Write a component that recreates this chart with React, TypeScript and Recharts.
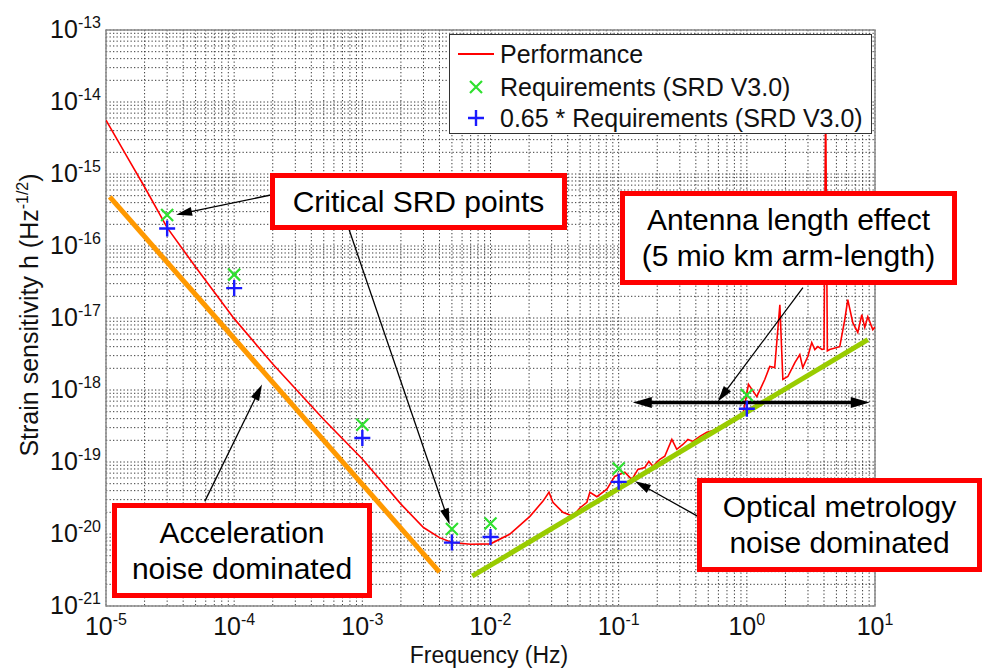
import React from 'react';
import {
  ComposedChart,
  Line,
  Scatter,
  XAxis,
  YAxis,
  CartesianGrid,
  ReferenceLine,
  ReferenceArea,
  Legend
} from 'recharts';

const FONT = "Arial, 'Liberation Sans', Helvetica, sans-serif";

// Performance curve: frequency (Hz) and strain sensitivity (1/sqrt(Hz))
const perfFreq = [
  1e-5, 1.5e-5, 2e-5, 3e-5, 5e-5, 1e-4, 2e-4, 5e-4, 1e-3, 2e-3, 3e-3, 4e-3, 5e-3, 7e-3, 1e-2,
  0.0141, 0.0203, 0.0256, 0.0286, 0.0307, 0.0367, 0.044, 0.0498, 0.0565, 0.0596, 0.0676, 0.081,
  0.093, 0.1117, 0.1267, 0.1413, 0.16, 0.172, 0.185, 0.2096, 0.229, 0.26, 0.284, 0.317, 0.347,
  0.379, 0.43, 0.488, 0.583, 0.698, 0.778, 0.931, 0.965, 1.03, 1.196, 1.38, 1.51, 1.65, 1.81,
  1.91, 2.09, 2.37, 2.59, 2.73, 2.99, 3.21, 3.39, 3.58, 3.85, 4.0, 4.12, 4.25, 4.43, 5.31, 5.81,
  6.13, 6.71, 7.34, 7.89, 8.32, 8.79, 9.61, 10
];
const perfStrain = [
  5.6e-15, 1.6e-15, 6.6e-16, 1.8e-16, 5.1e-17, 9.8e-18, 2.3e-18, 3.9e-19, 1.1e-19, 2.6e-20, 1.23e-20, 8.9e-21, 7.6e-21, 7.2e-21, 7.3e-21,
  9.9e-21, 1.76e-20, 2.84e-20, 3.8e-20, 2.76e-20, 2.0e-20, 1.76e-20, 2.3e-20, 2.76e-20, 3.8e-20, 3.3e-20, 4.2e-20,
  6.3e-20, 7.2e-20, 5.7e-20, 7.9e-20, 8.4e-20, 1.02e-19, 8.7e-20, 1.09e-19, 1.2e-19, 2.06e-19, 1.5e-19, 1.75e-19, 2.06e-19,
  1.93e-19, 2.27e-19, 2.58e-19, 2.83e-19, 3.54e-19, 3.9e-19, 4.57e-19, 6.3e-19, 1.2e-18, 8.1e-19, 1.4e-18, 2.12e-18, 2.05e-18, 1.53e-17,
  1.4e-18, 1.54e-18, 2.4e-18, 3.1e-18, 2.05e-18, 2.92e-18, 4.56e-18, 3.65e-18, 4.0e-18, 3.65e-18, 3.7e-18, 1e-14, 3.5e-18, 3.65e-18, 4.0e-18, 9.5e-18,
  1.8e-17, 8.6e-18, 6.3e-18, 1.11e-17, 7.4e-18, 1.04e-17, 6.9e-18, 7.5e-18
];

// SRD V3.0 requirement points and the 0.65 margin points
const reqFreq = [3e-5, 1e-4, 1e-3, 5e-3, 1e-2, 0.1, 1];
const reqStrain = [2.7e-16, 4.0e-17, 3.3e-19, 1.17e-20, 1.4e-20, 8.1e-20, 8.5e-19];
const reqMarginStrain = [1.75e-16, 2.6e-17, 2.15e-19, 7.6e-21, 9.1e-21, 5.3e-20, 5.5e-19];

// asymptotes
const accelFreq = [1.07e-5, 4.0e-3];
const accelStrain = [4.8e-16, 2.95e-21];
const opticalFreq = [7.2e-3, 8.8];
const opticalStrain = [2.6e-21, 5.0e-18];

// callout arrows (tail -> head)
const arrowTailFreq = [1.97e-4, 7.7e-4, 5.9e-5, 2.74, 0.415];
const arrowTailStrain = [5.15e-16, 1.91e-16, 2.84e-20, 2.64e-17, 1.76e-20];
const arrowHeadFreq = [3.52e-5, 4.8e-3, 1.65e-4, 0.594, 0.134];
const arrowHeadStrain = [2.72e-16, 1.36e-20, 1.19e-18, 6.9e-19, 5.4e-20];
const spanFreq = [0.129, 9.1];
const spanStrain = 6.7e-19;

// axis ticks
const xDecades = [1e-5, 1e-4, 1e-3, 1e-2, 1e-1, 1, 10];
const xExponents = ['-5', '-4', '-3', '-2', '-1', '0', '1'];
const yDecades = [1e-21, 1e-20, 1e-19, 1e-18, 1e-17, 1e-16, 1e-15, 1e-14, 1e-13];
const yExponents = ['-21', '-20', '-19', '-18', '-17', '-16', '-15', '-14', '-13'];
const minorSteps = [2, 3, 4, 5, 6, 7, 8, 9];

const withMinor = (decades: number[]) =>
  decades.flatMap((d, i) => (i < decades.length - 1 ? [d, ...minorSteps.map(m => m * d)] : [d]));
const xTicks = withMinor(xDecades);
const yTicks = withMinor(yDecades);

const toPoints = (fs: number[], hs: number[]) => fs.map((f, i) => ({ f, h: hs[i] }));
const perfData = toPoints(perfFreq, perfStrain);
const reqData = toPoints(reqFreq, reqStrain);
const reqMarginData = toPoints(reqFreq, reqMarginStrain);
const accelData = toPoints(accelFreq, accelStrain);
const opticalData = toPoints(opticalFreq, opticalStrain);

const REQ_GREEN = '#2fe02f';
const REQ_BLUE = '#1a1aff';

const decadeIndex = (v: number, decades: number[]) =>
  decades.findIndex(d => Math.abs(v / d - 1) < 1e-6);

const XTick = (props: any) => {
  const { x, y, payload } = props;
  const i = decadeIndex(payload.value, xDecades);
  if (i < 0) return null;
  return (
    <text x={x} y={y + 29} textAnchor="middle" fontFamily={FONT} fontSize={25} fill="#111">
      10<tspan dy={-10} fontSize={16}>{xExponents[i]}</tspan>
    </text>
  );
};

const YTick = (props: any) => {
  const { x, y, payload } = props;
  const i = decadeIndex(payload.value, yDecades);
  if (i < 0) return null;
  return (
    <text x={x - 5} y={y + 8} textAnchor="end" fontFamily={FONT} fontSize={25} fill="#111">
      10<tspan dy={-10} fontSize={16}>{yExponents[i]}</tspan>
    </text>
  );
};

const XTitle = () => (
  <text x={489} y={663} textAnchor="middle" fontFamily={FONT} fontSize={23} fill="#111">
    Frequency (Hz)
  </text>
);

const YTitle = () => (
  <text
    x={0}
    y={0}
    transform="translate(38,315) rotate(-90)"
    textAnchor="middle"
    fontFamily={FONT}
    fontSize={25}
    fill="#111"
  >
    Strain sensitivity h (Hz<tspan dy={-10} fontSize={16}>-1/2</tspan>
    <tspan dy={10}>)</tspan>
  </text>
);

const CrossMark = (props: any) => {
  const { cx, cy } = props;
  const s = 6;
  return (
    <path
      d={`M${cx - s},${cy - s}L${cx + s},${cy + s}M${cx - s},${cy + s}L${cx + s},${cy - s}`}
      stroke={REQ_GREEN}
      strokeWidth={2.2}
      fill="none"
    />
  );
};

const PlusMark = (props: any) => {
  const { cx, cy } = props;
  const s = 8;
  return (
    <path
      d={`M${cx - s},${cy}L${cx + s},${cy}M${cx},${cy - s}L${cx},${cy + s}`}
      stroke={REQ_BLUE}
      strokeWidth={2.4}
      fill="none"
    />
  );
};

// line with filled arrowhead(s)
const makeArrow = (width: number, head: number, spread: number, both: boolean) => (props: any) => {
  const { x1, y1, x2, y2 } = props;
  const a = Math.atan2(y2 - y1, x2 - x1);
  const ux = Math.cos(a);
  const uy = Math.sin(a);
  const tri = (tx: number, ty: number, dir: number) => {
    const bx = tx - dir * ux * head;
    const by = ty - dir * uy * head;
    return `${tx},${ty} ${bx - uy * spread},${by + ux * spread} ${bx + uy * spread},${by - ux * spread}`;
  };
  const sx = both ? x1 + ux * head * 0.8 : x1;
  const sy = both ? y1 + uy * head * 0.8 : y1;
  return (
    <g>
      <line
        x1={sx}
        y1={sy}
        x2={x2 - ux * head * 0.8}
        y2={y2 - uy * head * 0.8}
        stroke="#000"
        strokeWidth={width}
      />
      <polygon points={tri(x2, y2, 1)} fill="#000" />
      {both && <polygon points={tri(x1, y1, -1)} fill="#000" />}
    </g>
  );
};

const thinArrow = makeArrow(1.3, 16, 4.5, false);
const spanArrow = makeArrow(3.5, 19, 5.5, true);

const LegendBox = () => {
  const rows = [
    {
      label: 'Performance',
      icon: <line x1={8} y1={16} x2={44} y2={16} stroke="#ff0000" strokeWidth={2} />
    },
    { label: 'Requirements (SRD V3.0)', icon: <CrossMark cx={26} cy={16} /> },
    { label: '0.65 * Requirements (SRD V3.0)', icon: <PlusMark cx={26} cy={16} /> }
  ];
  const rowTops = [3, 36, 67];
  return (
    <div
      style={{
        position: 'relative',
        width: 423,
        height: 100,
        boxSizing: 'border-box',
        border: '1px solid #333',
        background: '#fff',
        fontFamily: FONT,
        fontSize: 25,
        color: '#111'
      }}
    >
      {rows.map((r, i) => (
        <div
          key={r.label}
          style={{ position: 'absolute', left: 0, top: rowTops[i], height: 32, display: 'flex', alignItems: 'center', whiteSpace: 'nowrap' }}
        >
          <svg width={50} height={32} style={{ display: 'block' }}>
            {r.icon}
          </svg>
          <span>{r.label}</span>
        </div>
      ))}
    </div>
  );
};

const callouts = [
  { left: 270, top: 173, width: 297, height: 57, lines: ['Critical SRD points'] },
  { left: 620, top: 191, width: 337, height: 94, lines: ['Antenna length effect', '(5 mio km arm-length)'] },
  { left: 112, top: 503, width: 260, height: 95, lines: ['Acceleration', 'noise dominated'] },
  { left: 697, top: 478, width: 285, height: 94, lines: ['Optical metrology', 'noise dominated'] }
];

export default function App() {
  return (
    <div style={{ position: 'absolute', left: 0, top: 0, width: 982, height: 668, overflow: 'hidden', background: '#fff' }}>
      <ComposedChart width={982} height={668} margin={{ top: 30, right: 107, bottom: 0, left: 0 }}>
        <CartesianGrid stroke="#3a3a3a" strokeDasharray="1.3 2.2" strokeWidth={1} />
        <XAxis
          dataKey="f"
          type="number"
          scale="log"
          domain={[1e-5, 10]}
          allowDataOverflow
          ticks={xTicks}
          interval={0}
          tick={<XTick />}
          tickLine={false}
          axisLine={false}
          tickSize={0}
          tickMargin={0}
          height={62}
          label={<XTitle />}
        />
        <YAxis
          dataKey="h"
          type="number"
          scale="log"
          domain={[1e-21, 1e-13]}
          allowDataOverflow
          ticks={yTicks}
          interval={0}
          tick={<YTick />}
          tickLine={false}
          axisLine={false}
          tickSize={0}
          tickMargin={0}
          width={106}
          label={<YTitle />}
        />
        <ReferenceArea
          x1={1e-5}
          x2={10}
          y1={1e-21}
          y2={1e-13}
          fill="none"
          fillOpacity={0}
          stroke="#8a8a8a"
          strokeWidth={1.5}
        />
        <Line
          data={perfData}
          dataKey="h"
          name="Performance"
          type="linear"
          stroke="#ff0000"
          strokeWidth={1.6}
          dot={false}
          isAnimationActive={false}
        />
        <Line
          data={accelData}
          dataKey="h"
          type="linear"
          stroke="#ff9900"
          strokeWidth={5}
          dot={false}
          legendType="none"
          isAnimationActive={false}
        />
        <Line
          data={opticalData}
          dataKey="h"
          type="linear"
          stroke="#99cc00"
          strokeWidth={5}
          dot={false}
          legendType="none"
          isAnimationActive={false}
        />
        <Scatter data={reqData} dataKey="h" name="Requirements (SRD V3.0)" shape={<CrossMark />} isAnimationActive={false} />
        <Scatter data={reqMarginData} dataKey="h" name="0.65 * Requirements (SRD V3.0)" shape={<PlusMark />} isAnimationActive={false} />
        {arrowTailFreq.map((f, i) => (
          <ReferenceLine
            key={`arrow-${i}`}
            segment={[
              { x: f, y: arrowTailStrain[i] },
              { x: arrowHeadFreq[i], y: arrowHeadStrain[i] }
            ]}
            shape={thinArrow}
          />
        ))}
        <ReferenceLine
          segment={[
            { x: spanFreq[0], y: spanStrain },
            { x: spanFreq[1], y: spanStrain }
          ]}
          shape={spanArrow}
        />
        <Legend
          layout="vertical"
          align="center"
          verticalAlign="middle"
          wrapperStyle={{ top: 34, left: 449, width: 423 }}
          content={<LegendBox />}
        />
      </ComposedChart>
      {callouts.map(c => (
        <div
          key={c.lines[0]}
          style={{
            position: 'absolute',
            left: c.left,
            top: c.top,
            width: c.width,
            height: c.height,
            boxSizing: 'border-box',
            border: '5px solid #ff0000',
            background: '#fff',
            display: 'flex',
            flexDirection: 'column',
            justifyContent: 'center',
            alignItems: 'center',
            fontFamily: FONT,
            fontSize: 30,
            lineHeight: '36px',
            color: '#000',
            whiteSpace: 'nowrap'
          }}
        >
          {c.lines.map(l => (
            <div key={l}>{l}</div>
          ))}
        </div>
      ))}
    </div>
  );
}
